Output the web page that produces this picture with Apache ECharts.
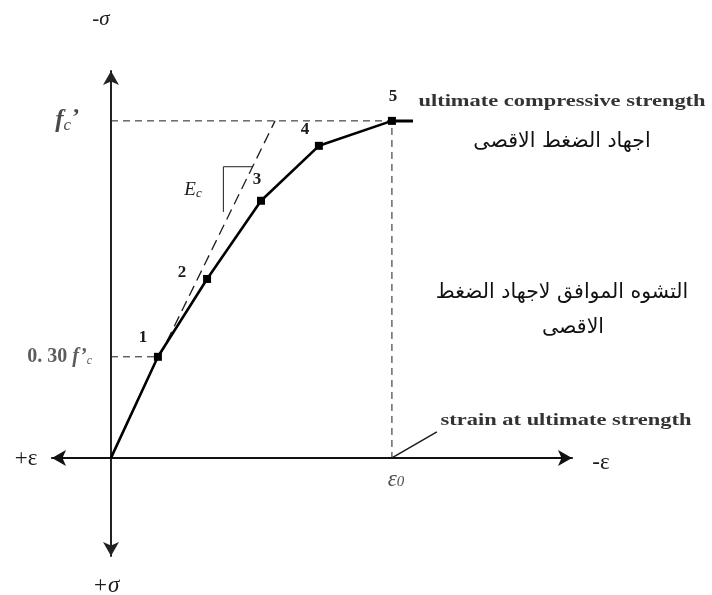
<!DOCTYPE html>
<html><head><meta charset="utf-8">
<script src="https://cdn.jsdelivr.net/npm/echarts@6/dist/echarts.min.js"></script>
<style>html,body{margin:0;padding:0;background:#fff}#chart{width:712px;height:595px}</style>
</head><body><div id="chart"></div>
<script>
// Normalised strain (ε/ε0) and stress (σ/f'c) of the numbered points on the concrete curve
const strain = [0, 0.167, 0.342, 0.534, 0.740, 1.0];
const stress = [0, 0.30, 0.531, 0.763, 0.926, 1.0];
const pointNames = ['', '1', '2', '3', '4', '5'];
// Tangent line (modulus Ec), drawn from the 0.30 f'c level up to f'c
const tangentStrain = [0.172, 0.584];
const tangentStress = [0.30, 1.0];
// Small slope triangle drawn beside the tangent
const slopeStrain = [0.505, 0.400, 0.400];
const slopeStress = [0.864, 0.864, 0.730];
// Short plateau mark after the peak
const peakTailStrain = [1.0, 1.075];
// Stress levels marked on the vertical axis
const stressTicks = [1.0, 0.30];
const stressTickLabels = ['{f|f}{c|c}{p|’}', '{b|0. 30 }{f|f’}{c|c}'];
// Leader from ε0 to its note
const leaderStrain = [1.0, 1.16];
const leaderStress = [0.0, 0.077];

const ink = '#1b1b1b';
const serif = '"Liberation Serif", "DejaVu Serif", serif';
const arabic = '"DejaVu Sans", "Liberation Sans", sans-serif';

const zip = (xs, ys) => xs.map((x, i) => [x, ys[i]]);

// label offsets for the numbered points (pixels from the marker)
const pointLabelOffset = [[0, 0], [-15, -19], [-25, -6], [-4, -21], [-14, -16], [1, -24]];

const curveData = strain.map((x, i) => ({
  value: [x, stress[i]],
  symbolSize: i === 0 ? 0 : 8,
  label: {
    show: i > 0,
    formatter: pointNames[i],
    position: 'inside',
    offset: pointLabelOffset[i],
    fontFamily: serif, fontWeight: 'bold', fontSize: 17, color: ink
  }
}));

const dashed = (w, d) => ({ color: ink, width: w, type: d });

// right edge of each stress label, pixels left of the vertical axis
const tickLabelOffset = [[-31, 0], [-19, 0]];

const option = {
  animation: false,
  backgroundColor: '#fff',
  grid: { left: 52, right: 140, top: 71, bottom: 39 },
  xAxis: {
    type: 'value', min: -0.210, max: 1.641,
    splitLine: { show: false }, axisTick: { show: false }, axisLabel: { show: false },
    axisLine: { onZero: true, symbol: ['arrow', 'arrow'], symbolSize: [12, 14],
      lineStyle: { color: '#111', width: 2 } }
  },
  yAxis: {
    type: 'value', min: -0.291, max: 1.148,
    splitLine: { show: false }, axisTick: { show: false }, axisLabel: { show: false },
    axisLine: { onZero: true, symbol: ['arrow', 'arrow'], symbolSize: [12, 14],
      lineStyle: { color: '#222', width: 2 } }
  },
  series: [
    { // peak level and peak strain guides
      type: 'line', data: [[0, stress[5]], [strain[5], stress[5]], [strain[5], 0]],
      symbol: 'none', lineStyle: dashed(1, [7, 5]), z: 2
    },
    { // 0.30 f'c guide
      type: 'line', data: [[0, stress[1]], [strain[1], stress[1]]],
      symbol: 'none', lineStyle: dashed(1, [7, 5]), z: 2
    },
    { // tangent
      type: 'line', data: zip(tangentStrain, tangentStress),
      symbol: 'none', lineStyle: dashed(1.3, [11, 6]), z: 2
    },
    { // slope triangle
      type: 'line', data: zip(slopeStrain, slopeStress),
      symbol: 'none', lineStyle: { color: ink, width: 1 }, z: 2
    },
    { // leader line
      type: 'line', data: zip(leaderStrain, leaderStress),
      symbol: 'none', lineStyle: { color: ink, width: 1.5 }, z: 2
    },
    { // plateau stub
      type: 'line', data: [[peakTailStrain[0], stress[5]], [peakTailStrain[1], stress[5]]],
      symbol: 'none', lineStyle: { color: '#000', width: 3 }, z: 3
    },
    { // stress-strain curve
      type: 'line', data: curveData, symbol: 'rect',
      itemStyle: { color: '#000' },
      lineStyle: { color: '#000', width: 2.6 }, z: 4
    },
    { // stress level labels on the vertical axis
      type: 'scatter', symbolSize: 0, silent: true, z: 5,
      data: stressTicks.map((v, i) => ({
        value: [0, v],
        label: {
          show: true, position: 'inside', align: 'right', verticalAlign: 'middle',
          offset: tickLabelOffset[i],
          formatter: stressTickLabels[i],
          rich: i === 0 ? {
            f: { fontFamily: serif, fontStyle: 'italic', fontWeight: 'bold', fontSize: 25, color: ink },
            c: { fontFamily: serif, fontStyle: 'italic', fontSize: 17, color: ink, padding: [9, 0, 0, 0] },
            p: { fontFamily: serif, fontWeight: 'bold', fontSize: 24, color: ink, padding: [0, 0, 6, 1] }
          } : {
            b: { fontFamily: serif, fontWeight: 'bold', fontSize: 20, color: '#333' },
            f: { fontFamily: serif, fontStyle: 'italic', fontWeight: 'bold', fontSize: 20, color: '#333' },
            c: { fontFamily: serif, fontStyle: 'italic', fontSize: 12, color: '#333', padding: [8, 0, 0, 0] }
          }
        }
      }))
    },
    { // ε0 label under the horizontal axis
      type: 'scatter', symbolSize: 0, silent: true, z: 5,
      data: [{
        value: [strain[5], 0],
        label: {
          show: true, position: 'inside', offset: [4, 22],
          formatter: '{e|ε}{o|0}',
          rich: {
            e: { fontFamily: serif, fontStyle: 'italic', fontSize: 23, color: '#222' },
            o: { fontFamily: serif, fontStyle: 'italic', fontSize: 15, color: '#222', padding: [5, 0, 0, 0] }
          }
        }
      }]
    }
  ],
  graphic: [
    { type: 'text', x: 101, y: 19, style: { text: '-σ', font: 'italic 21px ' + serif, fill: ink, align: 'center', verticalAlign: 'middle' } },
    { type: 'text', x: 106, y: 586, style: { text: '+σ', font: 'italic 23px ' + serif, fill: ink, align: 'center', verticalAlign: 'middle' } },
    { type: 'text', x: 26, y: 459, style: { text: '+ε', font: '23px ' + serif, fill: ink, align: 'center', verticalAlign: 'middle' } },
    { type: 'text', x: 601, y: 463, style: { text: '-ε', font: '23px ' + serif, fill: ink, align: 'center', verticalAlign: 'middle' } },
    { type: 'text', x: 193, y: 190, style: {
        text: '{e|E}{c|c}', align: 'center', verticalAlign: 'middle',
        rich: {
          e: { fontFamily: serif, fontStyle: 'italic', fontSize: 19, fill: ink },
          c: { fontFamily: serif, fontStyle: 'italic', fontSize: 13, fill: ink, padding: [8, 0, 0, 0] }
        } } },
    { type: 'text', x: 562, y: 102, scaleX: 1.32, style: { text: 'ultimate compressive strength', font: 'bold 17px ' + serif, fill: '#333', align: 'center', verticalAlign: 'middle' } },
    { type: 'text', x: 562, y: 142, style: { text: 'اجهاد الضغط الاقصى', font: '20.5px ' + arabic, fill: '#111', align: 'center', verticalAlign: 'middle' } },
    { type: 'text', x: 562, y: 293, style: { text: 'التشوه الموافق لاجهاد الضغط', font: '20.5px ' + arabic, fill: '#111', align: 'center', verticalAlign: 'middle' } },
    { type: 'text', x: 573, y: 328, style: { text: 'الاقصى', font: '20.5px ' + arabic, fill: '#111', align: 'center', verticalAlign: 'middle' } },
    { type: 'text', x: 566, y: 421, scaleX: 1.32, style: { text: 'strain at ultimate strength', font: 'bold 17px ' + serif, fill: '#333', align: 'center', verticalAlign: 'middle' } }
  ]
};

echarts.init(document.getElementById('chart'), null, { renderer: 'canvas' }).setOption(option);
</script>
</body></html>
